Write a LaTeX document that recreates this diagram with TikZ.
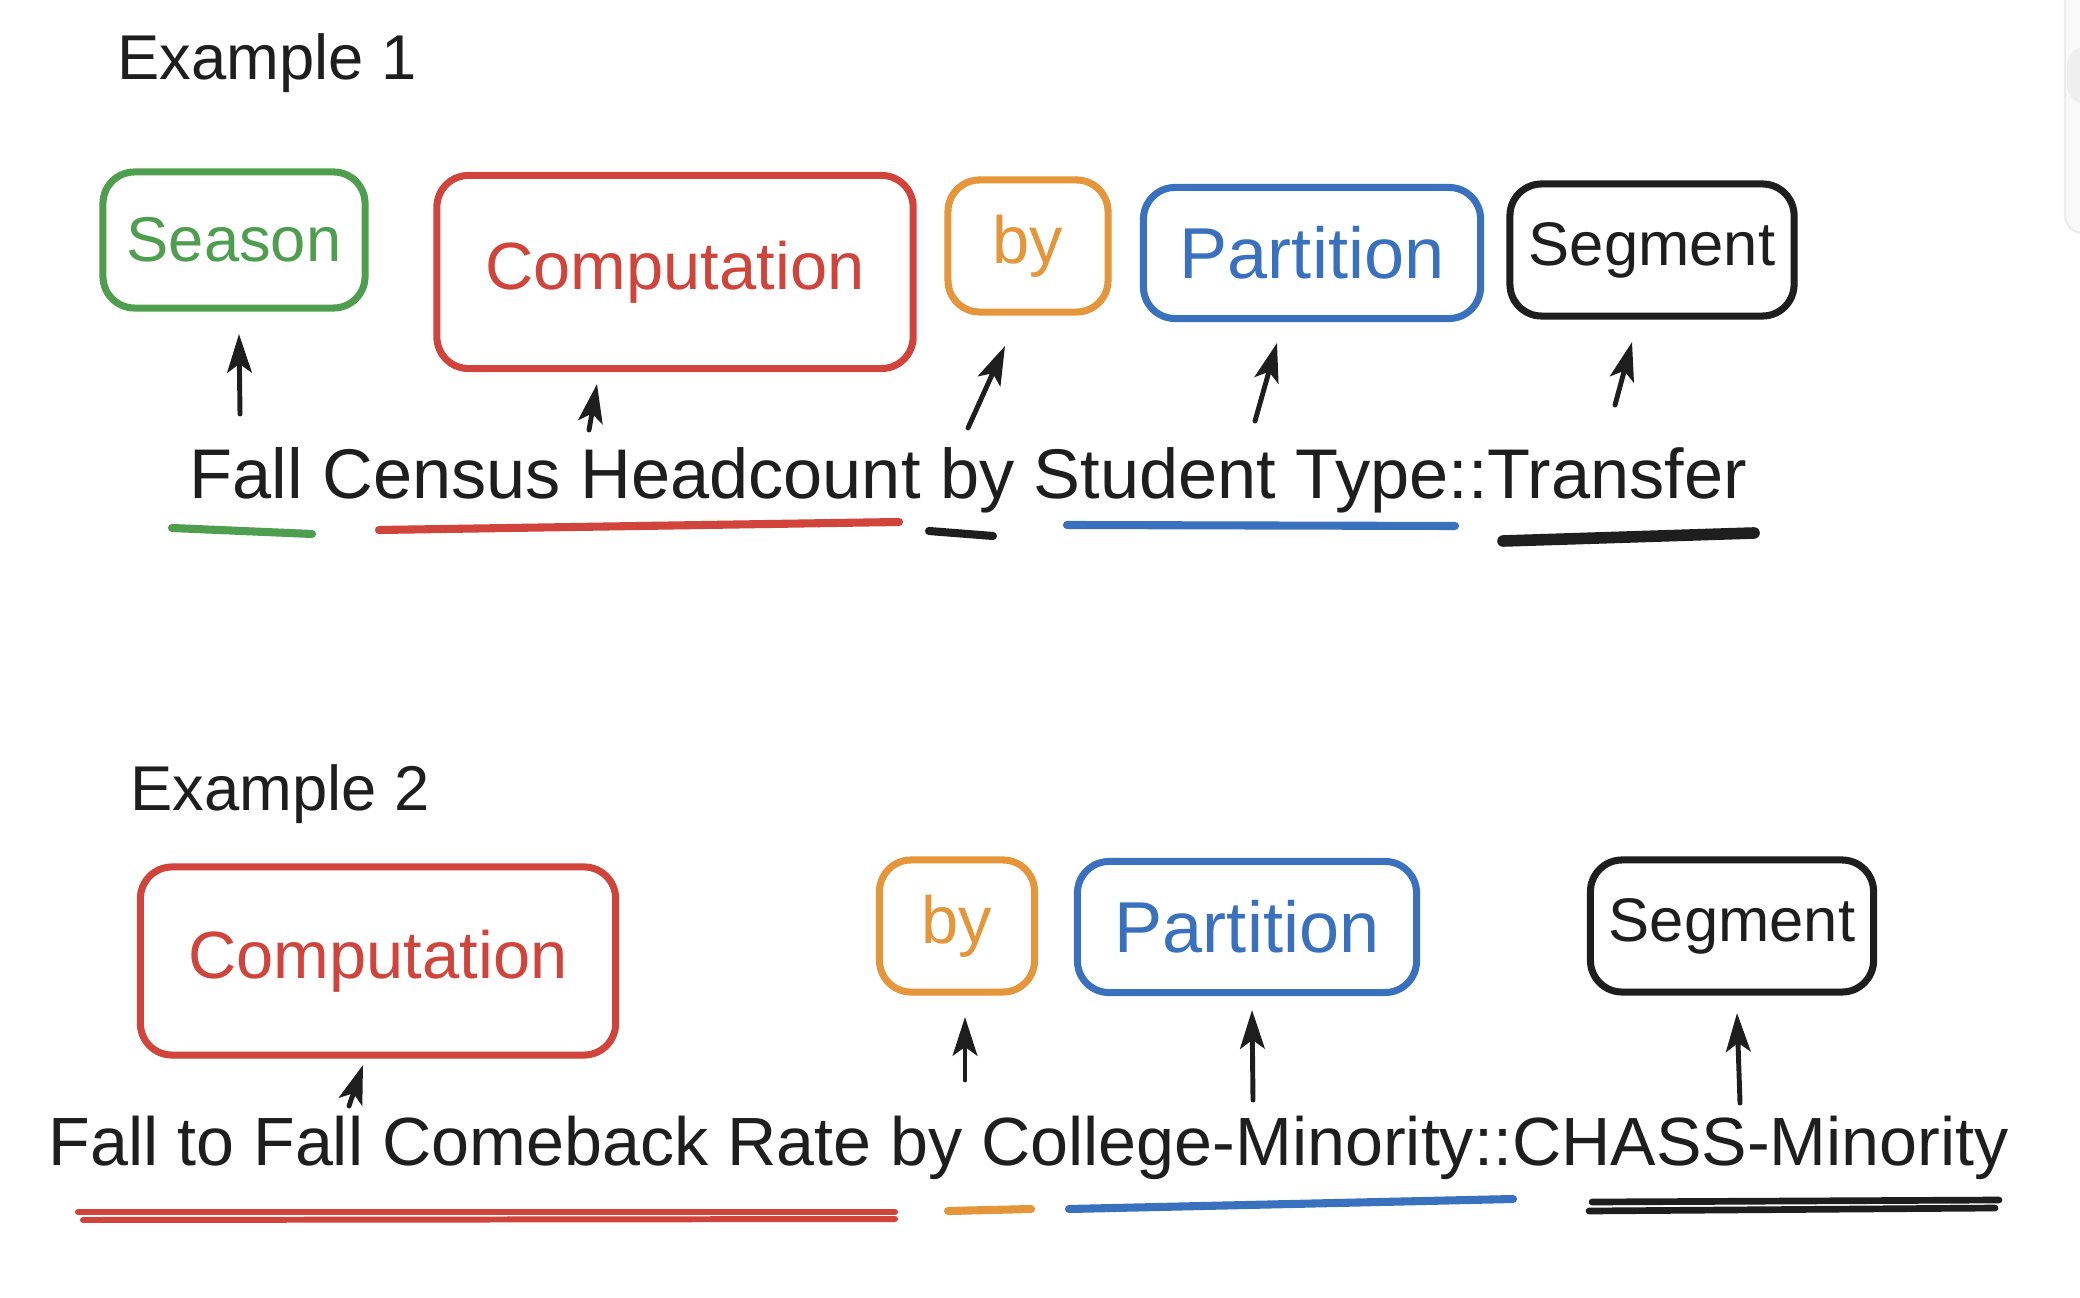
\documentclass[tikz,border=0pt]{standalone}
\usepackage{fontspec}
\setmainfont{Liberation Sans}
\usetikzlibrary{arrows.meta}
\definecolor{xgreen}{HTML}{4F9D4F}
\definecolor{xred}{HTML}{D1443C}
\definecolor{xorange}{HTML}{E5953A}
\definecolor{xblue}{HTML}{3A71BF}
\definecolor{xblack}{HTML}{1E1E1E}
\definecolor{uifill}{HTML}{F9F9F9}
\definecolor{uiline}{HTML}{ECECEC}
\definecolor{uithumb}{HTML}{EFEFEF}
\begin{document}
\begin{tikzpicture}[x=0.01cm,y=-0.01cm,
  tag/.style={draw=#1, text=#1, line width=2pt, rounded corners=9pt,
    font=\fontsize{19}{23}\selectfont, inner sep=0pt},
  ptr/.style={-{Stealth[length=11pt,width=7pt,inset=2.5pt]}, line width=1.4pt,
    draw=xblack, line cap=round},
  uline/.style={draw=#1, line width=2.3pt, line cap=round},
  title/.style={anchor=base west, inner sep=0pt, text=xblack,
    font=\fontsize{18}{22}\selectfont},
  sentence/.style={anchor=base west, inner sep=0pt, text=xblack},
]
\clip (0,0) rectangle (2080,1298);
\fill[white] (0,0) rectangle (2080,1298);
% UI scrollbar artefact at the right edge
\filldraw[fill=uifill, draw=uiline, line width=0.6pt, rounded corners=5pt]
  (2065,-20) rectangle (2110,233);
\fill[uithumb, rounded corners=5pt] (2067,47) rectangle (2110,103);

% ---------------- Example 1 ----------------
\node[title] (ex1) at (117,80) {Example 1};

\node[tag=xgreen,  minimum width=2.62cm, minimum height=1.36cm, font=\fontsize{18}{22}\selectfont] (s1) at (234,240) {Season};
\node[tag=xred,    minimum width=4.76cm, minimum height=1.93cm] (c1) at (675,272) {Computation};
\node[tag=xorange, minimum width=1.60cm, minimum height=1.32cm] (b1) at (1028,246) {by};
\node[tag=xblue,   minimum width=3.37cm, minimum height=1.31cm, font=\fontsize{20.5}{24}\selectfont] (p1) at (1312,253) {Partition};
\node[tag=xblack,  minimum width=2.84cm, minimum height=1.32cm, font=\fontsize{17.5}{21}\selectfont] (g1) at (1652,250) {Segment};

\node[sentence, font=\fontsize{20}{24}\selectfont] (t1) at (189,499)
  {Fall Census Headcount by Student Type::Transfer};

\coordinate (a1s) at (240,414);  \coordinate (a1e) at (239,334);
\coordinate (a2s) at (589,430);  \coordinate (a2e) at (597,384);
\coordinate (a3s) at (968,428);  \coordinate (a3e) at (1005,346);
\coordinate (a4s) at (1255,421); \coordinate (a4e) at (1277,343);
\coordinate (a5s) at (1615,405); \coordinate (a5e) at (1632,342);
\draw[ptr] (a1s) -- (a1e);
\draw[ptr] (a2s) -- (a2e);
\draw[ptr] (a3s) -- (a3e);
\draw[ptr] (a4s) -- (a4e);
\draw[ptr] (a5s) -- (a5e);

\draw[uline=xgreen] (172,528) -- (312,534);
\draw[uline=xred]   (379,530) -- (899,522);
\draw[uline=xblack] (929,531) -- (993,536);
\draw[uline=xblue]  (1067,525) -- (1455,526);
\draw[uline=xblack, line width=3.3pt] (1503,541) -- (1754,533);

% ---------------- Example 2 ----------------
\node[title] (ex2) at (130,810) {Example 2};

\node[tag=xred,    minimum width=4.75cm, minimum height=1.88cm] (c2) at (378,961) {Computation};
\node[tag=xorange, minimum width=1.55cm, minimum height=1.32cm] (b2) at (957,926) {by};
\node[tag=xblue,   minimum width=3.39cm, minimum height=1.31cm, font=\fontsize{20.5}{24}\selectfont] (p2) at (1247,927) {Partition};
\node[tag=xblack,  minimum width=2.83cm, minimum height=1.32cm, font=\fontsize{17.5}{21}\selectfont] (g2) at (1732,926) {Segment};

\node[sentence, font=\fontsize{19.4}{23}\selectfont] (t2) at (48,1165)
  {Fall to Fall Comeback Rate by College-Minority::CHASS-Minority};

\coordinate (d1s) at (349,1106);  \coordinate (d1e) at (363,1065);
\coordinate (d2s) at (965,1080);  \coordinate (d2e) at (965,1017);
\coordinate (d3s) at (1253,1100); \coordinate (d3e) at (1252,1010);
\coordinate (d4s) at (1740,1103); \coordinate (d4e) at (1737,1013);
\draw[ptr] (d1s) -- (d1e);
\draw[ptr] (d2s) -- (d2e);
\draw[ptr] (d3s) -- (d3e);
\draw[ptr] (d4s) -- (d4e);

\draw[uline=xred, line width=1.7pt] (78,1212) -- (895,1212);
\draw[uline=xred, line width=1.7pt] (83,1220) -- (895,1219);
\draw[uline=xorange] (948,1211) -- (1031,1209);
\draw[uline=xblue]   (1069,1209) -- (1513,1199);
\draw[uline=xblack, line width=1.9pt] (1592,1202) -- (1999,1200);
\draw[uline=xblack, line width=1.9pt] (1589,1211) -- (1995,1208);
\end{tikzpicture}
\end{document}
